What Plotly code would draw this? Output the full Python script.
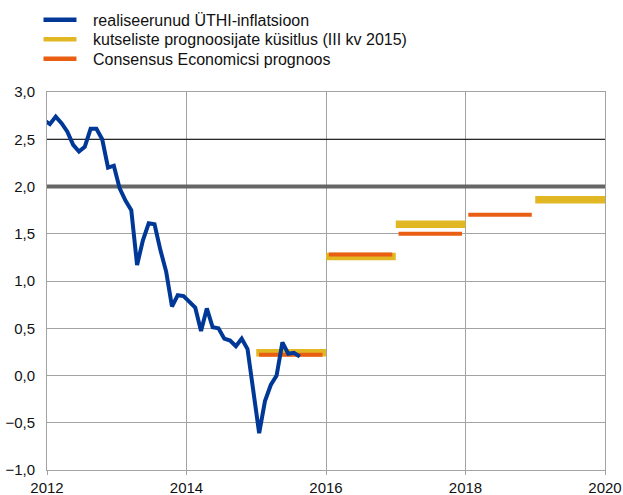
import plotly.graph_objects as go

# ---- data ----
hicp_months = [
    "2011-12",
    "2012-01", "2012-02", "2012-03", "2012-04", "2012-05", "2012-06",
    "2012-07", "2012-08", "2012-09", "2012-10", "2012-11", "2012-12",
    "2013-01", "2013-02", "2013-03", "2013-04", "2013-05", "2013-06",
    "2013-07", "2013-08", "2013-09", "2013-10", "2013-11", "2013-12",
    "2014-01", "2014-02", "2014-03", "2014-04", "2014-05", "2014-06",
    "2014-07", "2014-08", "2014-09", "2014-10", "2014-11", "2014-12",
    "2015-01", "2015-02", "2015-03", "2015-04", "2015-05", "2015-06",
    "2015-07", "2015-08",
]
hicp_values = [
    2.70,
    2.66, 2.74, 2.67, 2.58, 2.44, 2.37, 2.42, 2.61, 2.61, 2.50, 2.20, 2.22,
    1.98, 1.85, 1.75, 1.17, 1.43, 1.61, 1.60, 1.33, 1.10, 0.73, 0.85, 0.84,
    0.78, 0.72, 0.47, 0.71, 0.51, 0.50, 0.39, 0.37, 0.31, 0.39, 0.28, -0.19,
    -0.61, -0.27, -0.10, 0.00, 0.35, 0.23, 0.24, 0.20,
]

spf_years = [2015, 2016, 2017, 2019]
spf_values = [0.24, 1.26, 1.60, 1.86]

ce_years = [2015, 2016, 2017, 2018]
ce_values = [0.22, 1.28, 1.50, 1.70]

target_value = 2.0
x_ticks = [2012, 2014, 2016, 2018, 2020]
x_range = [2012, 2020]
y_range = [-1.0, 3.0]

names = [
    "realiseerunud ÜTHI-inflatsioon",
    "kutseliste prognoosijate küsitlus (III kv 2015)",
    "Consensus Economicsi prognoos",
]

BLUE = "#003897"
YELLOW = "#e2b724"
ORANGE = "#ea5e14"
GRID = "#a3a3a3"
FONT = "Liberation Sans, Arial, sans-serif"
TEXT = "#111111"

W, H = 623, 495
ML, MR, MT, MB = 46.5, 18, 92.3, 24.5
PW, PH = W - ML - MR, H - MT - MB


def px_to_paper_x(px):
    return (px - ML) / PW


def px_to_paper_y(py):
    return (H - MB - py) / PH


def month_to_x(s):
    y, m = s.split("-")
    return int(y) + (int(m) - 0.5) / 12.0


def segments(years, values, inset_l=0.0, inset_r=0.0):
    xs, ys = [], []
    for yr, v in zip(years, values):
        xs += [yr + inset_l, yr + 1 - inset_r, None]
        ys += [v, v, None]
    return xs, ys


fig = go.Figure()

# target line 2.0
fig.add_trace(go.Scatter(
    x=x_range, y=[target_value, target_value], mode="lines",
    line=dict(color="#666666", width=4), showlegend=False, hoverinfo="skip",
))

sx, sy = segments(spf_years, spf_values)
fig.add_trace(go.Scatter(
    x=sx, y=sy, mode="lines", name=names[1], showlegend=False,
    line=dict(color=YELLOW, width=7.5),
))

cx, cy = segments(ce_years, ce_values, 0.04, 0.05)
fig.add_trace(go.Scatter(
    x=cx, y=cy, mode="lines", name=names[2], showlegend=False,
    line=dict(color=ORANGE, width=4),
))

fig.add_trace(go.Scatter(
    x=[month_to_x(m) for m in hicp_months], y=hicp_values, mode="lines",
    name=names[0], showlegend=False,
    line=dict(color=BLUE, width=4),
))

fig.add_shape(type="line", xref="x", yref="y", x0=x_range[0], x1=x_range[1],
              y0=2.5, y1=2.5, line=dict(color="black", width=1), layer="between")

# manual legend (line symbols + real text)
legend_colors = [BLUE, YELLOW, ORANGE]
legend_rows_px = [20, 39.5, 59]
for name, col, ry in zip(names, legend_colors, legend_rows_px):
    fig.add_shape(type="line", xref="paper", yref="paper",
                  x0=px_to_paper_x(43), x1=px_to_paper_x(76),
                  y0=px_to_paper_y(ry), y1=px_to_paper_y(ry),
                  line=dict(color=col, width=4.5), layer="above")
    fig.add_annotation(xref="paper", yref="paper",
                       x=px_to_paper_x(91), y=px_to_paper_y(ry + 0.5),
                       xanchor="left", yanchor="middle", showarrow=False,
                       text=name, font=dict(family=FONT, size=16, color=TEXT))

fig.update_layout(
    width=W, height=H,
    margin=dict(l=ML, r=MR, t=MT, b=MB, autoexpand=False),
    paper_bgcolor="white", plot_bgcolor="white",
    separators=", ",
    showlegend=False,
    font=dict(family=FONT, size=15, color=TEXT),
    xaxis=dict(
        range=x_range, tickvals=x_ticks, tickformat="d",
        showgrid=True, gridcolor=GRID, gridwidth=1,
        showline=True, linecolor=GRID, linewidth=1, mirror=True,
        ticks="outside", ticklen=4, tickcolor=GRID,
        zeroline=False, fixedrange=True,
    ),
    yaxis=dict(
        range=y_range, dtick=0.5, tick0=-1, tickformat=".1f",
        showgrid=True, gridcolor=GRID, gridwidth=1,
        showline=True, linecolor=GRID, linewidth=1, mirror=True,
        ticks="", ticklabelstandoff=8,
        zeroline=False, fixedrange=True,
    ),
)

fig.write_html("out.html", config={"displayModeBar": False},
               post_script="document.body.style.margin='0';")
